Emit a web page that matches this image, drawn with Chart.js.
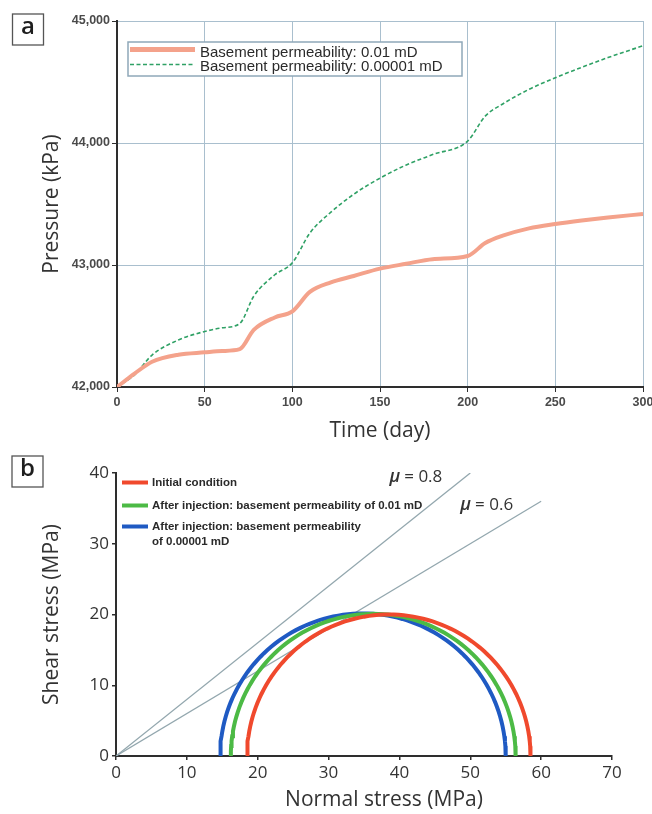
<!DOCTYPE html>
<html>
<head>
<meta charset="utf-8">
<script src="https://cdn.jsdelivr.net/npm/chart.js@4.4.1/dist/chart.umd.min.js"></script>
<style>
  html, body { margin: 0; padding: 0; background: #fff; }
  #wrap { position: relative; width: 652px; height: 814px; }
  canvas { position: absolute; left: 0; }
  #pressureChart { top: 0; }
  #mohrChart { top: 445px; }
</style>
</head>
<body>
<div id="wrap">
  <canvas id="pressureChart" width="652" height="445"></canvas>
  <canvas id="mohrChart" width="652" height="369"></canvas>
</div>
<script>
// (a) pressure at the injection point
var days = [0, 10, 20, 35, 50, 60, 70, 78, 90, 100, 110, 122, 135, 150, 165, 180, 200, 210, 220, 235, 250, 265, 280, 300]
var pressure001 = [42000, 42110, 42207, 42265, 42284, 42295, 42310, 42468, 42570, 42620, 42780, 42858, 42910, 42970, 43010, 43048, 43074, 43180, 43240, 43300, 43336, 43365, 43390, 43418]
var pressure000001 = [42000, 42100, 42262, 42385, 42455, 42485, 42520, 42744, 42920, 43018, 43262, 43433, 43580, 43712, 43820, 43905, 44016, 44220, 44320, 44440, 44535, 44620, 44700, 44797]
var pressureLabels = ["Basement permeability: 0.01 mD", "Basement permeability: 0.00001 mD"]
var pressureTicks = [42000, 43000, 44000, 45000]
var dayTicks = [0, 50, 100, 150, 200, 250, 300]

// (b) Mohr circles and failure envelopes
var circleLabels = [
  "Initial condition",
  "After injection: basement permeability of 0.01 mD",
  "After injection: basement permeability\nof 0.00001 mD"
]
var sigma3 = [18.5, 16.2, 14.7]
var sigma1 = [58.5, 56.4, 55.0]
var frictionCoef = [0.8, 0.6]
var frictionEnd = [50, 60]
var stressTicks = [0, 10, 20, 30, 40, 50, 60, 70]

var circleColors = ["#f0492d", "#4cba45", "#1f5ac3"]
var darkAxis = "#2e2e2e"

Chart.defaults.font.family = "'Liberation Sans', Arial, sans-serif"
Chart.defaults.color = "#444"

function xy(xs, ys) {
   return xs.map(function (x, i) { return { x: x, y: ys[i] } })
}

// semicircle in (sigma_n, tau) space between sigma3 and sigma1
function mohr(s3, s1) {
   var c = (s1 + s3) / 2, r = (s1 - s3) / 2, pts = []
   for (var a = 180; a >= 0; a -= 2) {
      var t = a * Math.PI / 180
      pts.push({ x: c + r * Math.cos(t), y: r * Math.sin(t) })
   }
   return pts
}

function fixedAxis(size) {
   return function (scale) {
      if (scale.isHorizontal()) scale.height = size
      else scale.width = size
      scale.paddingLeft = scale.paddingRight = scale.paddingTop = scale.paddingBottom = 0
   }
}

function panelTag(letter, x, y) {
   return {
      id: "panelTag",
      afterDraw: function (chart) {
         var c = chart.ctx
         c.save()
         c.fillStyle = "#fff"
         c.strokeStyle = "#555"
         c.lineWidth = 1.3
         c.fillRect(x, y, 31, 31)
         c.strokeRect(x, y, 31, 31)
         c.fillStyle = "#1e1e1e"
         c.font = "600 24px 'Open Sans'"
         c.textAlign = "center"
         c.textBaseline = "middle"
         c.fillText(letter, x + 15.5, y + 13.5)
         c.restore()
      }
   }
}

// boxed legend in the upper left of the pressure plot
var pressureLegend = {
   id: "pressureLegend",
   afterDatasetsDraw: function (chart) {
      var c = chart.ctx, area = chart.chartArea
      var x0 = area.left + 11, y0 = area.top + 21
      c.save()
      c.fillStyle = "#fff"
      c.fillRect(x0, y0, 334, 34)
      c.strokeStyle = "#8fa8b9"
      c.lineWidth = 1.5
      c.strokeRect(x0, y0, 334, 34)
      c.font = "15px 'Liberation Sans'"
      c.fillStyle = "#2a2a2a"
      chart.data.datasets.forEach(function (ds, i) {
         var y = y0 + 7.5 + i * 15
         c.beginPath()
         c.strokeStyle = ds.borderColor
         c.lineWidth = ds.borderWidth + (i === 0 ? 1 : 0)
         c.setLineDash(ds.borderDash || [])
         c.moveTo(x0 + 2, y)
         c.lineTo(x0 + 67, y)
         c.stroke()
         c.setLineDash([])
         c.fillText(ds.label, x0 + 72, y0 + 14.5 + i * 14)
      })
      c.restore()
   }
}

new Chart(document.getElementById("pressureChart").getContext("2d"), {
   type: "scatter",
   data: {
      datasets: [
         {
            label: pressureLabels[0],
            data: xy(days, pressure001),
            showLine: true,
            borderColor: "#f4a28b",
            borderWidth: 4,
            pointRadius: 0,
            cubicInterpolationMode: "monotone",
         },
         {
            label: pressureLabels[1],
            data: xy(days, pressure000001),
            showLine: true,
            borderColor: "#2fa165",
            borderWidth: 1.6,
            borderDash: [4, 2.5],
            pointRadius: 0,
            cubicInterpolationMode: "monotone",
         },
      ],
   },
   options: {
      responsive: false,
      animation: false,
      layout: { padding: { left: 0, top: 21, right: 9, bottom: 0 } },
      plugins: { legend: { display: false }, tooltip: { enabled: false } },
      scales: {
         x: {
            type: "linear",
            min: 0,
            max: 300,
            afterFit: fixedAxis(58),
            afterBuildTicks: function (s) { s.ticks = dayTicks.map(function (v) { return { value: v } }) },
            grid: { color: "#a9bfce", lineWidth: 1, tickLength: 5, tickColor: darkAxis },
            border: { display: true, color: darkAxis, width: 2 },
            ticks: { padding: 3, color: "#4a4a4a", font: { size: 12.5, weight: "bold" } },
            title: {
               display: true,
               text: "Time (day)",
               color: "#333",
               font: { family: "'Open Sans'", size: 21 },
               padding: { top: 0, bottom: 1 },
            },
         },
         y: {
            min: 42000,
            max: 45000,
            afterFit: fixedAxis(117),
            afterBuildTicks: function (s) { s.ticks = pressureTicks.map(function (v) { return { value: v } }) },
            grid: { color: "#a9bfce", lineWidth: 1, tickLength: 5, tickColor: darkAxis },
            border: { display: true, color: darkAxis, width: 2 },
            ticks: {
               padding: 2,
               color: "#4a4a4a",
               font: { size: 12.5, weight: "bold" },
               callback: function (v) { return v.toLocaleString("en-US") },
            },
            title: {
               display: true,
               text: "Pressure (kPa)",
               color: "#333",
               font: { family: "'Open Sans'", size: 21 },
               padding: { top: 39, bottom: 0 },
            },
         },
      },
   },
   plugins: [pressureLegend, panelTag("a", 12.5, 14)],
})

// legend with short thick swatches, the friction coefficient labels
// and the x axis title, which sits a little right of centre
var mohrNotes = {
   id: "mohrNotes",
   afterDatasetsDraw: function (chart) {
      var c = chart.ctx, area = chart.chartArea
      var xs = chart.scales.x, ys = chart.scales.y
      c.save()
      var rowY = [9.5, 32.5, 53.5]
      var x0 = area.left + 6
      var row = 0
      chart.data.datasets.forEach(function (ds) {
         if (ds.mu !== undefined) {
            var ex = xs.getPixelForValue(ds.end), ey = ys.getPixelForValue(ds.mu * ds.end)
            c.fillStyle = "#333"
            c.textBaseline = "middle"
            c.textAlign = "right"
            c.font = "17px 'Open Sans'"
            c.fillText("= " + ds.mu.toFixed(1), ex - 28, ey + 4)
            var w = c.measureText("= " + ds.mu.toFixed(1)).width
            c.font = "italic 600 18px 'Open Sans'"
            c.fillText("\u03bc", ex - 28 - w - 4, ey + 4)
            return
         }
         var y = area.top + rowY[row]
         c.beginPath()
         c.strokeStyle = ds.borderColor
         c.lineWidth = 4
         c.moveTo(x0, y)
         c.lineTo(x0 + 26, y)
         c.stroke()
         c.fillStyle = "#2a2a2a"
         c.font = "bold 11.5px 'Liberation Sans'"
         c.textAlign = "left"
         c.textBaseline = "alphabetic"
         ds.label.split("\n").forEach(function (line, k) {
            c.fillText(line, x0 + 30, y + 3.5 + k * 15)
         })
         row++
      })
      c.fillStyle = "#333"
      c.font = "21px 'Open Sans'"
      c.textAlign = "center"
      c.textBaseline = "middle"
      c.fillText("Normal stress (MPa)", (area.left + area.right) / 2 + 20, chart.height - 14)
      c.restore()
   }
}

var mohrSets = sigma3.map(function (s3, i) {
   return {
      label: circleLabels[i],
      data: mohr(s3, sigma1[i]),
      showLine: true,
      borderColor: circleColors[i],
      borderWidth: 4,
      pointRadius: 0,
   }
})
frictionCoef.forEach(function (mu, i) {
   mohrSets.push({
      label: "\u03bc = " + mu,
      mu: mu,
      end: frictionEnd[i],
      data: [{ x: 0, y: 0 }, { x: frictionEnd[i], y: mu * frictionEnd[i] }],
      showLine: true,
      borderColor: "#93a7ae",
      borderWidth: 1.3,
      pointRadius: 0,
   })
})

new Chart(document.getElementById("mohrChart").getContext("2d"), {
   type: "scatter",
   data: { datasets: mohrSets },
   options: {
      responsive: false,
      animation: false,
      layout: { padding: { left: 0, top: 28, right: 40, bottom: 0 } },
      plugins: { legend: { display: false }, tooltip: { enabled: false } },
      scales: {
         x: {
            type: "linear",
            min: 0,
            max: 70,
            afterFit: fixedAxis(58),
            afterBuildTicks: function (s) { s.ticks = stressTicks.map(function (v) { return { value: v } }) },
            grid: { drawOnChartArea: false, tickLength: 4, tickColor: darkAxis, lineWidth: 1.5 },
            border: { display: true, color: darkAxis, width: 2 },
            ticks: { padding: 3, color: "#333", font: { family: "'Open Sans'", size: 17 } },
         },
         y: {
            min: 0,
            max: 40,
            afterFit: fixedAxis(116),
            afterBuildTicks: function (s) { s.ticks = stressTicks.slice(0, 5).map(function (v) { return { value: v } }) },
            grid: { drawOnChartArea: false, tickLength: 4, tickColor: darkAxis, lineWidth: 1.5 },
            border: { display: true, color: darkAxis, width: 2 },
            ticks: { padding: 3, color: "#333", font: { family: "'Open Sans'", size: 17 } },
            title: {
               display: true,
               text: "Shear stress (MPa)",
               color: "#333",
               font: { family: "'Open Sans'", size: 21 },
               padding: { top: 39, bottom: 0 },
            },
         },
      },
   },
   plugins: [mohrNotes, panelTag("b", 12, 11)],
})
</script>
</body>
</html>
